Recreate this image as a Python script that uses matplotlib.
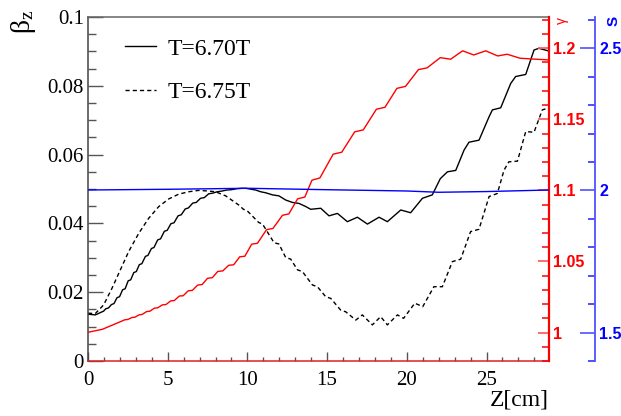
import numpy as np
import matplotlib
matplotlib.use("Agg")
import matplotlib.pyplot as plt
from matplotlib.ticker import MultipleLocator

plt.rcParams['font.family'] = ['Liberation Serif', 'DejaVu Serif']
plt.rcParams['mathtext.fontset'] = 'stix'

# ---------------- data ----------------
z_t670 = [0.0, 0.46, 0.98, 1.12, 1.28, 1.47, 1.63, 1.82, 1.98, 2.17, 2.33, 2.52, 2.68,
          2.87, 3.03, 3.22, 3.38, 3.6, 3.76, 3.98, 4.14, 4.37, 4.55, 4.79, 4.97, 5.2, 5.4,
          5.65, 5.85, 6.1, 6.3, 6.57, 6.79, 7.06, 7.3, 7.57, 7.83, 8.1, 8.4, 8.7, 9.0,
          9.35, 9.65, 9.9, 10.52, 10.83, 11.15, 11.57, 11.98, 12.4, 12.82, 13.24, 13.66,
          13.97, 14.6, 15.12, 15.65, 16.27, 16.9, 17.53, 18.26, 18.78, 19.62, 20.24,
          20.98, 21.6, 22.1, 22.55, 23.07, 23.59, 23.9, 24.53, 25.16, 25.37, 25.89, 26.52,
          26.83, 27.46, 27.98, 28.29, 28.92]
beta_t670 = [0.0136, 0.0134, 0.0145, 0.0152, 0.0154, 0.0164, 0.0167, 0.0184, 0.0187,
             0.0207, 0.0210, 0.0233, 0.0236, 0.0257, 0.0260, 0.0280, 0.0283, 0.0304, 0.0307,
             0.0327, 0.0330, 0.0352, 0.0355, 0.0377, 0.0380, 0.0399, 0.0402, 0.0422, 0.0425,
             0.0442, 0.0445, 0.0459, 0.0461, 0.0473, 0.0475, 0.0486, 0.0488, 0.0492, 0.0494,
             0.0497, 0.0498, 0.0501, 0.0502, 0.0502, 0.0497, 0.0492, 0.0489, 0.0483, 0.0480,
             0.0468, 0.0461, 0.0458, 0.0449, 0.0441, 0.0444, 0.0422, 0.0429, 0.0405, 0.0418,
             0.0398, 0.0418, 0.0405, 0.0439, 0.0431, 0.0473, 0.0483, 0.0530, 0.0550, 0.0554,
             0.0613, 0.0636, 0.0642, 0.0710, 0.0730, 0.0736, 0.0807, 0.0827, 0.0833, 0.0904,
             0.0909, 0.0901]

z_t675 = [0.0, 0.46, 0.98, 1.5, 2.03, 2.55, 3.18, 3.81, 4.44, 5.06, 5.69, 6.32, 6.95, 7.57,
          8.0, 8.64, 9.47, 9.75, 9.98, 10.7, 10.95, 11.67, 11.98, 12.4, 12.72, 13.14, 13.45,
          14.08, 14.39, 14.91, 15.23, 15.85, 16.17, 16.8, 17.21, 17.84, 18.36, 18.78, 19.41,
          19.8, 20.5, 21.0, 21.7, 22.23, 22.86, 23.38, 24.0, 24.53, 25.16, 25.68, 26.1, 26.4,
          26.94, 27.46, 27.98, 28.5, 28.92]
beta_t675 = [0.0139, 0.0138, 0.0163, 0.0211, 0.0265, 0.0318, 0.0371, 0.0415, 0.0449, 0.0471,
             0.0485, 0.0492, 0.0496, 0.0494, 0.0492, 0.0480, 0.0453, 0.0441, 0.0437, 0.0403,
             0.0398, 0.0344, 0.0340, 0.0301, 0.0296, 0.0265, 0.0260, 0.0221, 0.0216, 0.0187,
             0.0182, 0.0148, 0.0143, 0.0119, 0.0134, 0.0105, 0.0129, 0.0105, 0.0134, 0.0124,
             0.0168, 0.0158, 0.0216, 0.0216, 0.0289, 0.0296, 0.0376, 0.0383, 0.0478, 0.0487,
             0.0555, 0.0579, 0.0581, 0.0667, 0.0665, 0.0730, 0.0736]

z_gamma = [0.0, 0.9, 2.13, 2.31, 2.49, 2.76, 2.94, 3.21, 3.39, 3.68, 3.88, 4.17, 4.37, 4.67,
           4.89, 5.19, 5.41, 5.73, 5.97, 6.29, 6.55, 6.88, 7.16, 7.5, 7.8, 8.14, 8.46, 8.82,
           9.14, 9.52, 9.84, 10.27, 10.63, 11.2, 11.6, 12.2, 12.6, 13.15, 13.6, 14.05, 14.55,
           15.38, 15.92, 16.73, 17.27, 18.09, 18.63, 19.38, 19.92, 20.73, 21.27, 22.1, 22.75,
           23.5, 24.2, 24.95, 25.7, 26.3, 27.1, 27.8, 28.92]
gamma = [1.0002, 1.0023, 1.0081, 1.0090, 1.0092, 1.0106, 1.0108, 1.0125, 1.0127, 1.0148,
         1.0150, 1.0172, 1.0174, 1.0195, 1.0197, 1.0223, 1.0225, 1.0257, 1.0259, 1.0294,
         1.0297, 1.0334, 1.0338, 1.0382, 1.0386, 1.0430, 1.0434, 1.0473, 1.0477, 1.0533,
         1.0537, 1.0622, 1.0628, 1.0724, 1.0732, 1.0825, 1.0835, 1.0941, 1.0953, 1.1072,
         1.1088, 1.1255, 1.1269, 1.1412, 1.1426, 1.1571, 1.1585, 1.1718, 1.1732, 1.1850,
         1.1862, 1.1934, 1.1923, 1.1982, 1.1953, 1.1982, 1.1946, 1.1958, 1.1930, 1.1925,
         1.1918]

z_s = [0.0, 5.0, 10.0, 15.0, 20.0, 22.0, 25.0, 28.92]
s_val = [2.0015, 2.004, 2.0075, 2.0025, 1.998, 1.9935, 1.996, 2.0015]

beta_ticks = [0, 0.02, 0.04, 0.06, 0.08, 0.1]
beta_labels = ['0', '0.02', '0.04', '0.06', '0.08', '0.1']
z_ticks = [0, 5, 10, 15, 20, 25]
z_labels = ['0', '5', '10', '15', '20', '25']
gamma_ticks = [1.0, 1.05, 1.1, 1.15, 1.2]
gamma_labels = ['1', '1.05', '1.1', '1.15', '1.2']
s_ticks = [1.5, 2.0, 2.5]
s_labels = ['1.5', '2', '2.5']

# ---------------- figure ----------------
W, H = 621, 416
fig = plt.figure(figsize=(W / 100, H / 100), dpi=100)
L, R, B, T = 88, 549, 361, 17
ax = fig.add_axes([L / W, 1 - B / H, (R - L) / W, (B - T) / H])

px = 72 / 100.0  # points per pixel

l1, = ax.plot(z_t670, beta_t670, color='black', lw=1.0, label='T=6.70T')
l2, = ax.plot(z_t675, beta_t675, color='black', lw=1.0, dashes=(3, 2.2), label='T=6.75T')
ax.set_xlim(0, 28.92)
ax.set_ylim(0, 0.1)
ax.set_xticks(z_ticks)
ax.set_xticklabels(z_labels)
ax.set_yticks(beta_ticks)
ax.set_yticklabels(beta_labels)
ax.xaxis.set_minor_locator(MultipleLocator(1))
ax.yaxis.set_minor_locator(MultipleLocator(0.005))
ax.tick_params(axis='y', which='major', direction='in', length=15 * px, width=1.0,
               color='#555555', labelsize=15, pad=3)
ax.tick_params(axis='y', which='minor', direction='in', length=7.5 * px, width=1.0,
               color='#555555')
ax.tick_params(axis='x', which='major', direction='in', length=9 * px, width=1.0,
               color='#555555', labelsize=15, pad=7)
ax.tick_params(axis='x', which='minor', direction='in', length=4.5 * px, width=1.0,
               color='#555555')
ax.spines['right'].set_visible(False)
ax.spines['top'].set_color('#666666')
ax.spines['left'].set_color('#444444')
ax.spines['bottom'].set_color('#dd2222')
for sp in ax.spines.values():
    sp.set_linewidth(1.1)
ax.set_xlabel('Z[cm]', fontsize=17, loc='right', labelpad=0)

# gamma axis (red)
axg = ax.twinx()
axg.plot(z_gamma, gamma, color='#ff0000', lw=1.0)
axg.set_ylim(0.98, 1.222)
axg.set_yticks(gamma_ticks)
axg.set_yticklabels(gamma_labels)
axg.yaxis.set_minor_locator(MultipleLocator(0.01))
for sp in ['top', 'left', 'bottom']:
    axg.spines[sp].set_visible(False)
axg.spines['right'].set_color('#ff0000')
axg.spines['right'].set_linewidth(1.6)
axg.tick_params(axis='y', which='major', direction='in', length=11 * px, width=1.3,
                color='#ff6060', labelcolor='#ff0000', pad=3)
axg.tick_params(axis='y', which='minor', direction='in', length=7 * px, width=1.1,
                color='#ff0000')
for lab in axg.get_yticklabels():
    lab.set_family(['Liberation Sans', 'DejaVu Sans'])
    lab.set_fontweight('bold')
    lab.set_fontsize(11.5)

# s axis (blue)
axs = ax.twinx()
axs.plot(z_s, s_val, color='#0000ff', lw=1.0)
axs.set_ylim(1.4, 2.61)
axs.spines['right'].set_position(('axes', (595 - L) / (R - L)))
for sp in ['top', 'left', 'bottom']:
    axs.spines[sp].set_visible(False)
axs.spines['right'].set_color('#5050ff')
axs.spines['right'].set_linewidth(1.3)
axs.set_yticks(s_ticks)
axs.set_yticklabels(s_labels)
axs.yaxis.set_minor_locator(MultipleLocator(0.1))
axs.tick_params(axis='y', which='major', direction='in', length=15 * px, width=1.2,
                color='#5050ff', labelcolor='#0000ff', pad=3)
axs.tick_params(axis='y', which='minor', direction='in', length=7 * px, width=1.2,
                color='#3030ff')
for lab in axs.get_yticklabels():
    lab.set_family(['Liberation Sans', 'DejaVu Sans'])
    lab.set_fontweight('bold')
    lab.set_fontsize(11.5)

# axis titles
fig.text(24 / W, 1 - 10 / H, r'$\mathregular{β_z}$', rotation=90, fontsize=20,
         ha='center', va='top')
fig.text(562 / W, 1 - 21 / H, 'γ', rotation=90, fontsize=10, color='#ff0000',
         ha='center', va='center', family=['Liberation Sans', 'DejaVu Sans'])
fig.text(614 / W, 1 - 21 / H, 'S', rotation=90, fontsize=11, color='#0000ff',
         ha='center', va='center', fontweight='bold', family=['Liberation Sans', 'DejaVu Sans'])

# legend
fig.legend(handles=[l1, l2], labels=['T=6.70T', 'T=6.75T'], loc='upper left',
           bbox_to_anchor=(125 / W, 1 - 38 / H), frameon=False, fontsize=17,
           handlelength=1.3, handletextpad=0.5, labelspacing=0.92, borderpad=0,
           borderaxespad=0)

fig.savefig('out.png', dpi=100)
